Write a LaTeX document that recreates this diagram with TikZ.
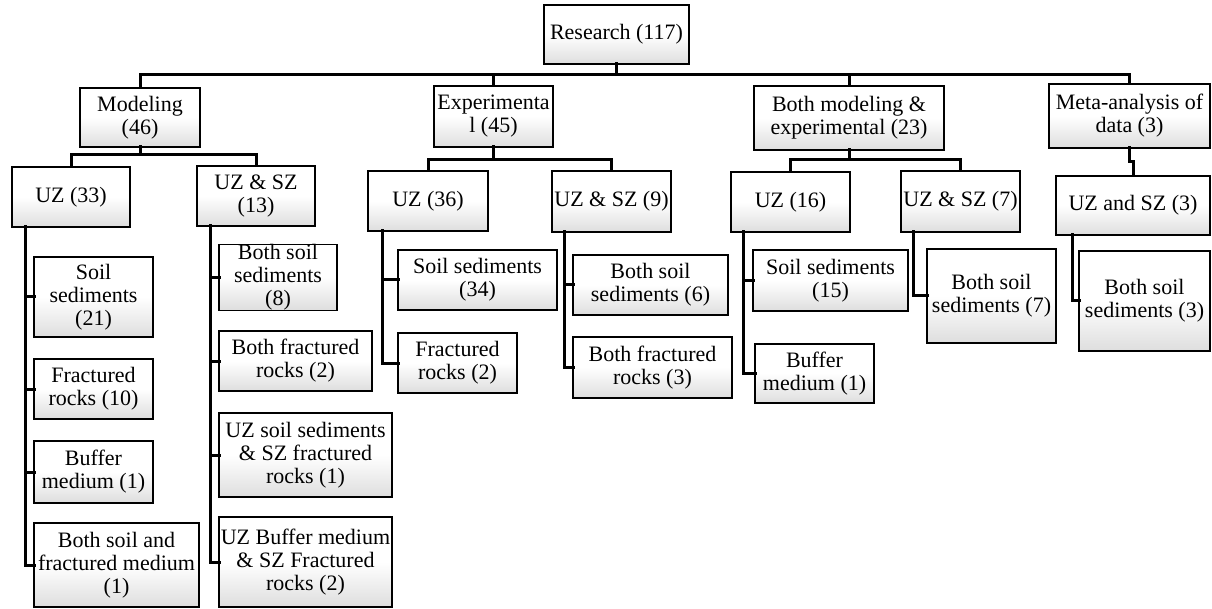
\documentclass[tikz,border=0pt]{standalone}
\usepackage{fontspec}
\setmainfont{Liberation Serif}
\tikzset{
  box/.style={draw=black, line width=1.9pt, top color=white, bottom color=black!13,
    middle color=white,
    inner sep=0pt, outer sep=0pt, align=center, rectangle,
    font=\fontsize{22}{23}\selectfont},
  conn/.style={draw=black, line width=3pt, line cap=rect}
}
\newcommand{\mybox}[6]{%
  \node[box, minimum width={(#4-#2)*1pt}, minimum height={(#5-#3)*1pt}]
    (#1) at ({(#2+#4)/2},{(#3+#5)/2}) {#6};}
\begin{document}
\begin{tikzpicture}[x=1pt,y=-1pt]
\useasboundingbox (0,0) rectangle (1212,609);
% level 0 and 1
\mybox{research}{544}{5}{689}{64}{Research (117)}
\mybox{modeling}{80}{88}{200}{147}{Modeling\\(46)}
\mybox{exper}{434}{86}{553}{147}{Experimenta\\l (45)}
\mybox{both}{754}{86}{944}{150}{Both modeling \&\\experimental (23)}
\mybox{meta}{1049}{84}{1210}{148}{Meta-analysis of\\data (3)}
% level 2
\mybox{uz33}{12}{167}{130}{227}{UZ (33)}
\mybox{uzsz13}{197}{166}{315}{226}{UZ \& SZ\\(13)}
\mybox{uz36}{368}{171}{488}{231}{UZ (36)}
\mybox{uzsz9}{552}{171}{671}{232}{UZ \& SZ (9)}
\mybox{uz16}{731}{172}{850}{232}{UZ (16)}
\mybox{uzsz7}{901}{171}{1020}{232}{UZ \& SZ (7)}
\mybox{uzsz3}{1056}{176}{1210}{235}{UZ and SZ (3)}
% level 3 - modeling UZ
\mybox{s21}{34}{257}{153}{337}{Soil\\sediments\\(21)}
\mybox{f10}{34}{359}{153}{419}{Fractured\\rocks (10)}
\mybox{b1}{34}{441}{153}{503}{Buffer\\medium (1)}
\mybox{bsf1}{34}{523}{199}{607}{Both soil and\\fractured medium\\(1)}
% modeling UZ & SZ
\mybox{bss8}{219}{247}{337}{308}{Both soil\\sediments\\(8)}
\mybox{bfr2}{219}{331}{372}{391}{Both fractured\\rocks (2)}
\mybox{uzss}{219}{413}{392}{497}{UZ soil sediments\\\& SZ fractured\\rocks (1)}
\mybox{uzbm}{219}{517}{392}{607}{UZ Buffer medium\\\& SZ Fractured\\rocks (2)}
% experimental
\mybox{ss34}{398}{250}{557}{310}{Soil sediments\\(34)}
\mybox{fr2}{398}{333}{517}{393}{Fractured\\rocks (2)}
\mybox{bss6}{573}{255}{728}{315}{Both soil\\sediments (6)}
\mybox{bfr3}{573}{337}{732}{398}{Both fractured\\rocks (3)}
% both
\mybox{ss15}{753}{250}{908}{311}{Soil sediments\\(15)}
\mybox{bm1}{755}{344}{874}{403}{Buffer\\medium (1)}
\mybox{bss7}{927}{249}{1056}{343}{Both soil\\sediments (7)}
% meta
\mybox{bss3}{1079}{251}{1210}{351}{Both soil\\sediments (3)}

% connectors level 0 -> 1
\draw[conn] (research.south) -- ++(0,11) coordinate (rb);
\draw[conn] (rb) -| (modeling.north);
\draw[conn] (rb) -| (exper.north);
\draw[conn] (rb) -| (both.north);
\draw[conn] (rb) -| (meta.north);
% level 1 -> 2
\draw[conn] (modeling.south) -- ++(0,8) coordinate (mb);
\draw[conn] (mb) -| (uz33.north);
\draw[conn] (mb) -| (uzsz13.north);
\draw[conn] (exper.south) -- ++(0,13) coordinate (eb);
\draw[conn] (eb) -| (uz36.north);
\draw[conn] (eb) -| (uzsz9.north);
\draw[conn] (both.south) -- ++(0,10) coordinate (bb);
\draw[conn] (bb) -| (uz16.north);
\draw[conn] (bb) -| (uzsz7.north);
\draw[conn] (meta.south) -- ++(0,14) coordinate (mtb);
\draw[conn] (mtb) -| (uzsz3.north);
% level 2 -> 3
\foreach \c in {s21,f10,b1,bsf1}
  \draw[conn] ([xshift=13pt]uz33.south west) |- (\c.west);
\foreach \c in {bss8,bfr2,uzss,uzbm}
  \draw[conn] ([xshift=13pt]uzsz13.south west) |- (\c.west);
\foreach \c in {ss34,fr2}
  \draw[conn] ([xshift=14pt]uz36.south west) |- (\c.west);
\foreach \c in {bss6,bfr3}
  \draw[conn] ([xshift=12pt]uzsz9.south west) |- (\c.west);
\foreach \c in {ss15,bm1}
  \draw[conn] ([xshift=12pt]uz16.south west) |- (\c.west);
\draw[conn] ([xshift=12pt]uzsz7.south west) |- (bss7.west);
\draw[conn] ([xshift=16pt]uzsz3.south west) |- (bss3.west);
\end{tikzpicture}
\end{document}
